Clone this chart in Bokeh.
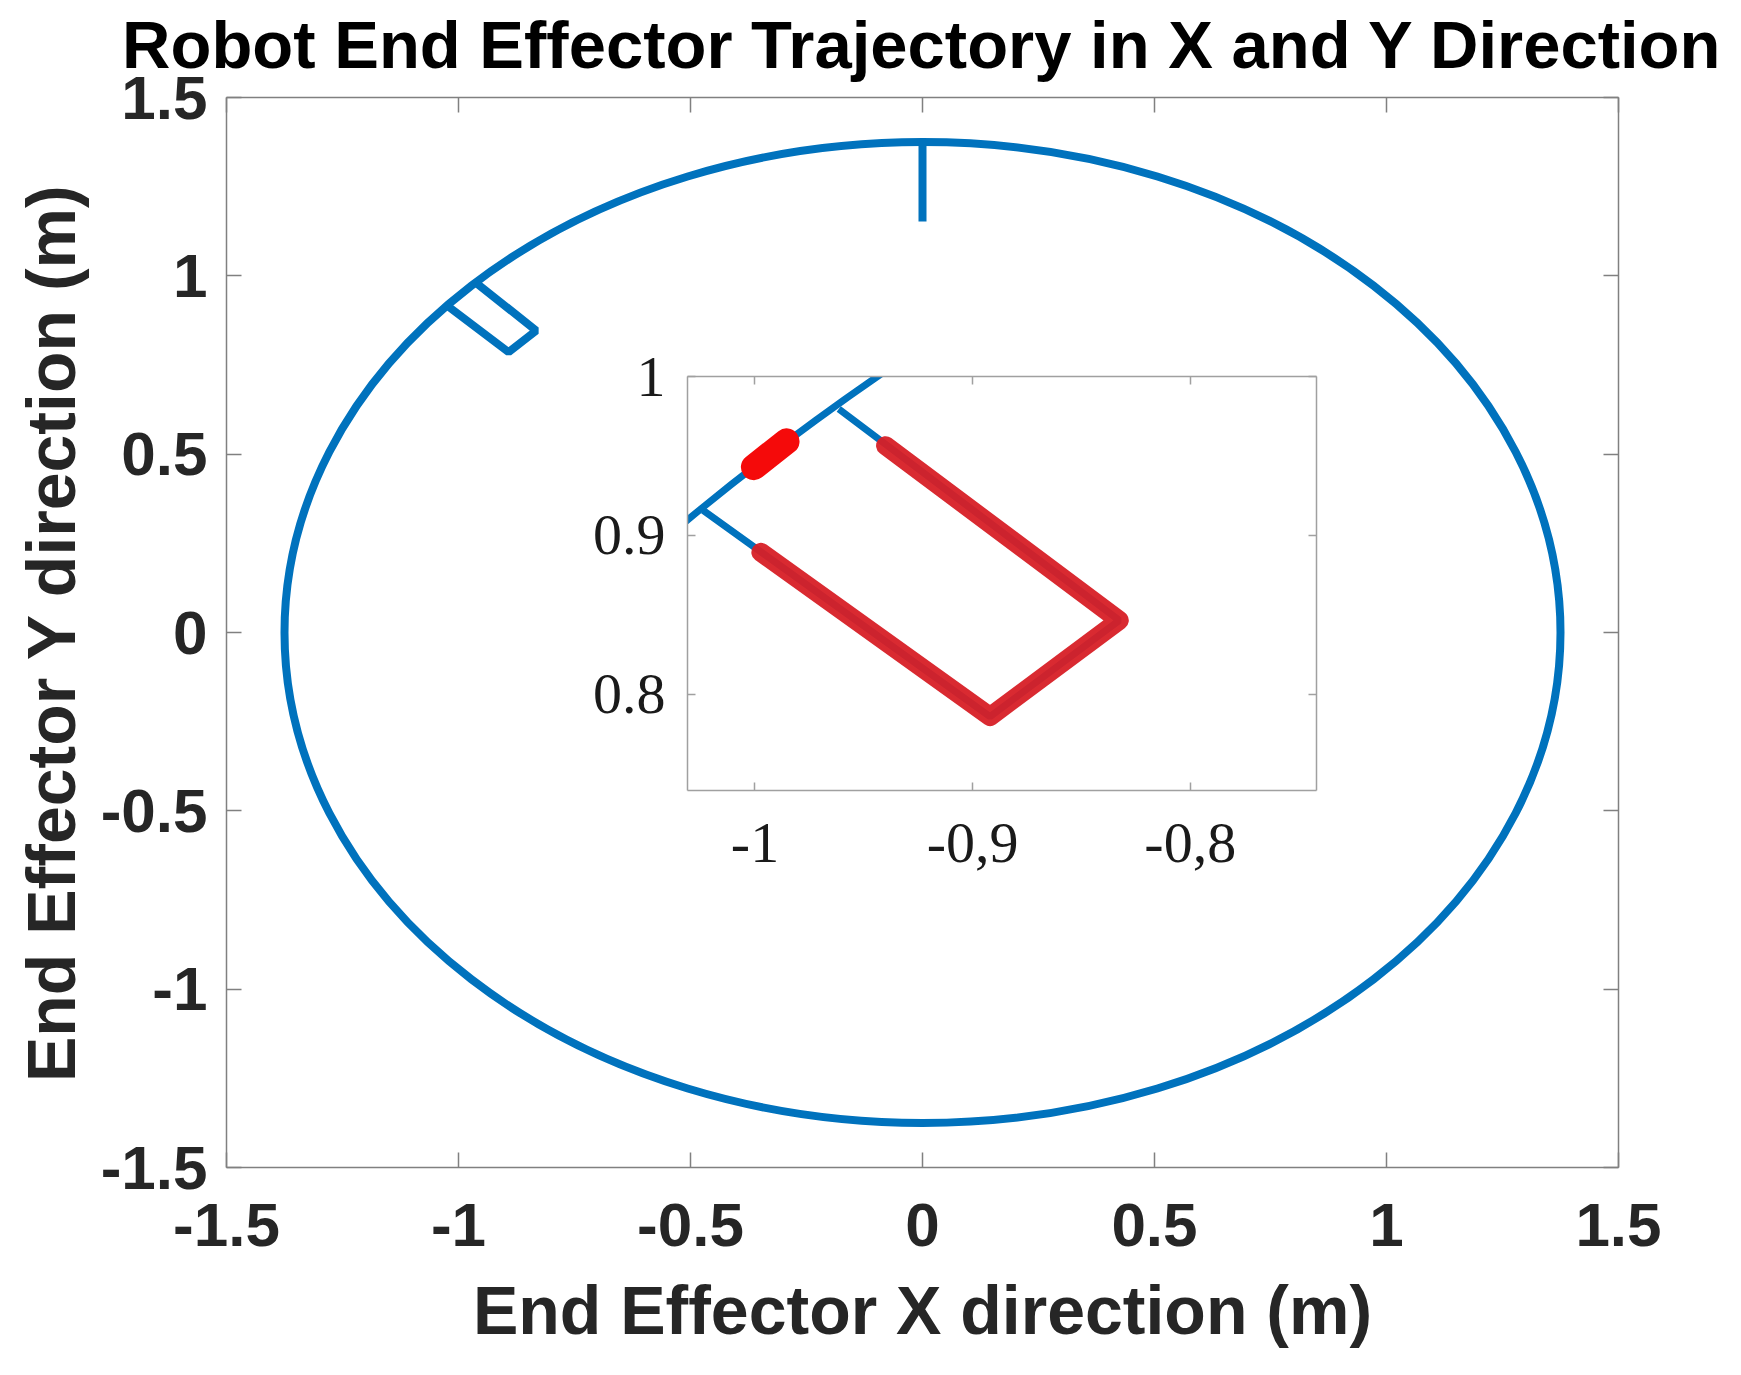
from bokeh.plotting import figure
from bokeh.models import Range1d, FixedTicker, LinearAxis
from bokeh.embed import file_html
from bokeh.resources import INLINE

# ---------------- data ----------------
title_text = "Robot End Effector Trajectory in X and Y Direction"
x_label_text = "End Effector X direction (m)"
y_label_text = "End Effector Y direction (m)"

x_ticks = [-1.5, -1, -0.5, 0, 0.5, 1, 1.5]
x_tick_labels = ["-1.5", "-1", "-0.5", "0", "0.5", "1", "1.5"]
y_ticks = [-1.5, -1, -0.5, 0, 0.5, 1, 1.5]
y_tick_labels = ["-1.5", "-1", "-0.5", "0", "0.5", "1", "1.5"]

circle_center_x = [0.0]
circle_center_y = [0.0]
circle_radius = [1.375]

spur_x = [0.0, 0.0]
spur_y = [1.375, 1.152]

rect_x = [-1.0238, -0.892, -0.8326, -0.9615]
rect_y = [0.9158, 0.7861, 0.8466, 0.9796]

red_x = [-0.9973, -0.892, -0.8326, -0.940]
red_y = [0.8894, 0.7861, 0.8466, 0.9565]

red_dot_x = [-1.0005, -0.9855]
red_dot_y = [0.9430, 0.9592]

inset_x_ticks = [-1, -0.9, -0.8]
inset_x_tick_labels = ["-1", "-0,9", "-0,8"]
inset_y_ticks = [0.8, 0.9, 1.0]
inset_y_tick_labels = ["0.8", "0.9", "1"]

BLUE = "#0072BD"
RED = "#d71f26"
AXIS = "#808080"
TXT = "#262626"
SANS = "Liberation Sans"
SERIF = "Liberation Serif"

# ---------------- main figure ----------------
TOP_EXTRA = 23  # extra room above the axes for the title; figure is lifted by this much
p = figure(width=1725, height=1357 + TOP_EXTRA,
           x_range=Range1d(-1.5, 1.5), y_range=Range1d(-1.5, 1.5),
           min_border_left=218, min_border_right=115,
           min_border_top=89 + TOP_EXTRA, min_border_bottom=198,
           output_backend="svg", toolbar_location=None,
           title=title_text)
p.grid.visible = False
p.outline_line_color = None
p.background_fill_color = "white"
p.border_fill_color = "white"

p.title.text_font = SANS
p.title.text_font_style = "bold"
p.title.text_font_size = "67px"
p.title.text_color = "black"
p.title.align = "center"
p.title.standoff = 31

def style_axis(ax, ticks, labels, show_labels=True):
    ax.ticker = FixedTicker(ticks=ticks)
    ax.major_label_overrides = {t: l for t, l in zip(ticks, labels)}
    ax.axis_line_color = AXIS
    ax.axis_line_width = 1.5
    ax.major_tick_line_color = AXIS
    ax.major_tick_line_width = 1.5
    ax.major_tick_in = 15
    ax.major_tick_out = 0
    ax.minor_tick_line_color = None
    ax.major_label_text_font = SANS
    ax.major_label_text_font_style = "bold"
    if show_labels:
        ax.major_label_text_font_size = "62px"
        ax.major_label_text_color = TXT
    else:
        ax.major_label_text_font_size = "1px"
        ax.major_label_text_color = None
        ax.major_label_standoff = 0
    ax.axis_label_text_font = SANS
    ax.axis_label_text_font_style = "bold"
    ax.axis_label_text_font_size = "68px"
    ax.axis_label_text_color = TXT

style_axis(p.xaxis[0], x_ticks, x_tick_labels)
style_axis(p.yaxis[0], y_ticks, y_tick_labels)
p.xaxis[0].axis_label = x_label_text
p.yaxis[0].axis_label = y_label_text
p.xaxis[0].major_label_standoff = 36
p.yaxis[0].major_label_standoff = 19
p.xaxis[0].axis_label_standoff = 23
p.yaxis[0].axis_label_standoff = 9

top_ax = LinearAxis()
style_axis(top_ax, x_ticks, x_tick_labels, show_labels=False)
p.add_layout(top_ax, "above")
right_ax = LinearAxis()
style_axis(right_ax, y_ticks, y_tick_labels, show_labels=False)
p.add_layout(right_ax, "right")

p.ellipse(x=circle_center_x, y=circle_center_y,
          width=[2 * r for r in circle_radius], height=[2 * r for r in circle_radius],
          fill_color=None, line_color=BLUE, line_width=8)
p.line(spur_x, spur_y, line_color=BLUE, line_width=8)
p.line(rect_x, rect_y, line_color=BLUE, line_width=8)

# ---------------- inset figure ----------------
inset = figure(width=744, height=549, title=None,
               x_range=Range1d(-1.031, -0.742), y_range=Range1d(0.7396, 1.0),
               min_border_left=100, min_border_right=15,
               min_border_top=35, min_border_bottom=100,
               output_backend="svg", toolbar_location=None)
inset.grid.visible = False
inset.outline_line_color = None
inset.background_fill_alpha = 0
inset.border_fill_alpha = 0

def style_inset_axis(ax, ticks, labels, show_labels=True):
    ax.ticker = FixedTicker(ticks=ticks)
    ax.major_label_overrides = {t: l for t, l in zip(ticks, labels)}
    ax.axis_line_color = "#a0a0a0"
    ax.axis_line_width = 1.5
    ax.major_tick_line_color = "#a0a0a0"
    ax.major_tick_line_width = 1.5
    ax.major_tick_in = 8
    ax.major_tick_out = 0
    ax.minor_tick_line_color = None
    ax.major_label_text_font = SERIF
    if show_labels:
        ax.major_label_text_font_size = "58px"
        ax.major_label_text_color = "#1a1a1a"
    else:
        ax.major_label_text_font_size = "1px"
        ax.major_label_text_color = None
        ax.major_label_standoff = 0

style_inset_axis(inset.xaxis[0], inset_x_ticks, inset_x_tick_labels)
style_inset_axis(inset.yaxis[0], inset_y_ticks, inset_y_tick_labels)
inset.xaxis[0].major_label_standoff = 33
inset.yaxis[0].major_label_standoff = 22
itop = LinearAxis()
style_inset_axis(itop, inset_x_ticks, inset_x_tick_labels, show_labels=False)
inset.add_layout(itop, "above")
iright = LinearAxis()
style_inset_axis(iright, inset_y_ticks, inset_y_tick_labels, show_labels=False)
inset.add_layout(iright, "right")

inset.ellipse(x=circle_center_x, y=circle_center_y,
              width=[2 * r for r in circle_radius], height=[2 * r for r in circle_radius],
              fill_color=None, line_color=BLUE, line_width=7)
inset.line(rect_x, rect_y, line_color=BLUE, line_width=7)
inset.line(red_x, red_y, line_color=RED, line_width=19, line_alpha=0.95,
           line_join="round", line_cap="round")
inset.line(red_dot_x, red_dot_y, line_color="#f50a0a", line_width=26,
           line_cap="round")

template = """
{% block contents %}
{% from macros import embed %}
<div style="padding: 8px;">
<div style="position: relative; width: 1725px; height: 1357px;">
  <div style="position: absolute; left: 0px; top: -""" + str(TOP_EXTRA) + """px;">
    {{ embed(docs[0].roots[0]) }}
  </div>
  <div style="position: absolute; left: 579px; top: 333px;">
    {{ embed(docs[0].roots[1]) }}
  </div>
</div>
</div>
{% endblock %}
"""

html = file_html([p, inset], INLINE, template=template)
open("out.html", "w").write(html)
